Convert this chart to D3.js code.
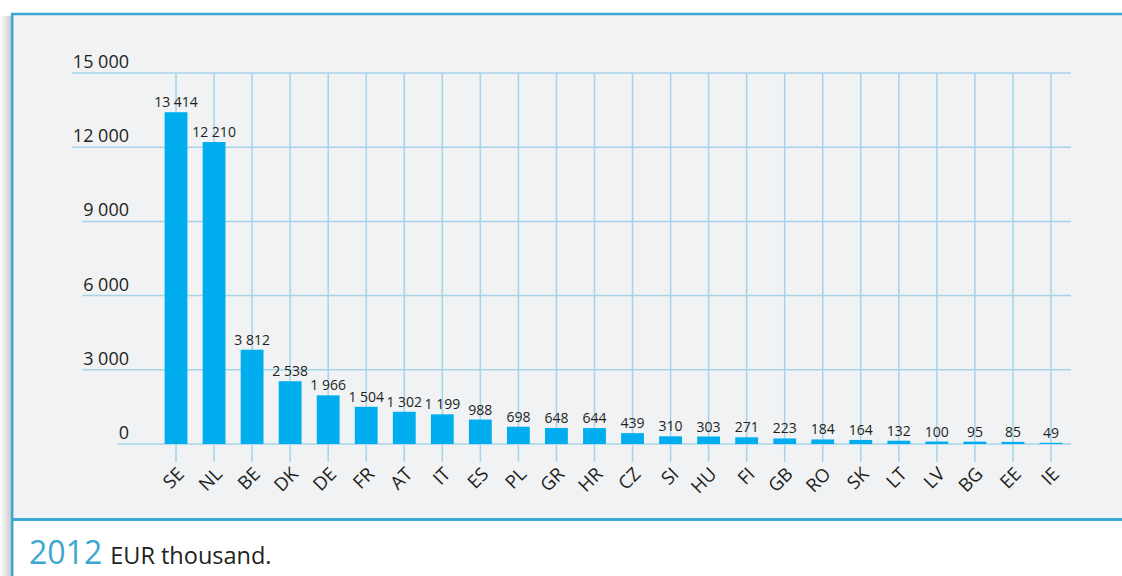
<!DOCTYPE html>
<html>
<head>
<meta charset="utf-8">
<script src="https://cdn.jsdelivr.net/npm/d3@7"></script>
<style>
  html, body { margin: 0; padding: 0; background: #ffffff; }
  svg { display: block; }
  text { font-family: "Open Sans", "Noto Sans", sans-serif; fill: #231f20; }
</style>
</head>
<body>
<svg id="chart" width="1122" height="576"></svg>
<script>
// Countries and their amounts (EUR thousand), 2012
const countries = ["SE","NL","BE","DK","DE","FR","AT","IT","ES","PL","GR","HR","CZ","SI","HU","FI","GB","RO","SK","LT","LV","BG","EE","IE"];
const amounts = [13414,12210,3812,2538,1966,1504,1302,1199,988,698,648,644,439,310,303,271,223,184,164,132,100,95,85,49];
const yTicks = [0,3000,6000,9000,12000,15000];
const captionYear = "2012";
const captionText = "EUR thousand.";

const W = 1122, H = 576;
const blue = "#3aa8d2", grid = "#a5d4ea", barColor = "#00aeef";
const fmt = v => d3.format(",")(v).replace(/,/g, " ");

const svg = d3.select("#chart");
const defs = svg.append("defs");
const shadow = defs.append("linearGradient").attr("id", "shade").attr("x1", 0).attr("x2", 1);
shadow.append("stop").attr("offset", 0).attr("stop-color", "#ffffff");
shadow.append("stop").attr("offset", 0.6).attr("stop-color", "#e2e2e2");
shadow.append("stop").attr("offset", 1).attr("stop-color", "#c9c9c9");

// panel shadow and background
svg.append("rect").attr("x", 0).attr("y", 16).attr("width", 11).attr("height", H - 16).attr("fill", "url(#shade)");
svg.append("rect").attr("x", 12).attr("y", 14).attr("width", W - 12).attr("height", 505).attr("fill", "#f0f2f4");

// panel frame
svg.append("line").attr("x1", 11).attr("x2", W).attr("y1", 14).attr("y2", 14).attr("stroke", blue).attr("stroke-width", 2.5);
svg.append("line").attr("x1", 12).attr("x2", W).attr("y1", 519.5).attr("y2", 519.5).attr("stroke", blue).attr("stroke-width", 3);
svg.append("line").attr("x1", 12.2).attr("x2", 12.2).attr("y1", 13).attr("y2", H).attr("stroke", blue).attr("stroke-width", 2.5);

// scales
const x = d3.scaleBand().domain(countries).range([157, 1070]).paddingInner(0.4).paddingOuter(0.2);
const y = d3.scaleLinear().domain([0, 15000]).range([444, 73]);

const g = svg.append("g");

// vertical grid lines through each category, extending below the baseline
g.append("g").selectAll("line").data(countries).join("line")
  .attr("x1", d => x(d) + x.bandwidth() / 2).attr("x2", d => x(d) + x.bandwidth() / 2)
  .attr("y1", y(15000)).attr("y2", 462)
  .attr("stroke", grid).attr("stroke-width", 1.5);

// y tick labels with the horizontal rules starting under each label
const labelRight = 129;
const ticks = g.append("g").selectAll("g").data(yTicks).join("g");
ticks.append("text")
  .attr("x", labelRight).attr("y", d => y(d) - 5)
  .attr("text-anchor", "end").attr("font-size", 18)
  .text(d => fmt(d));
ticks.each(function(d) {
  const t = d3.select(this).select("text").node();
  const w = t.getComputedTextLength();
  d3.select(this).insert("line", "text")
    .attr("x1", labelRight - w - 1).attr("x2", 1071)
    .attr("y1", y(d)).attr("y2", y(d))
    .attr("stroke", grid).attr("stroke-width", 1.5);
});

// bars
g.append("g").selectAll("rect").data(amounts).join("rect")
  .attr("x", (d, i) => x(countries[i]))
  .attr("width", x.bandwidth())
  .attr("y", d => y(d))
  .attr("height", d => y(0) - y(d))
  .attr("fill", barColor);

// value labels
g.append("g").selectAll("text").data(amounts).join("text")
  .attr("x", (d, i) => x(countries[i]) + x.bandwidth() / 2)
  .attr("y", d => y(d) - 5)
  .attr("text-anchor", "middle").attr("font-size", 14)
  .text(d => fmt(d));

// category labels, rotated
g.append("g").selectAll("text").data(countries).join("text")
  .attr("transform", d => `translate(${x(d) + x.bandwidth() / 2 + 4},${470}) rotate(-45)`)
  .attr("text-anchor", "end").attr("dy", "0.4em").attr("font-size", 18.5)
  .text(d => d);

// caption
const cap = svg.append("text").attr("x", 29).attr("y", 564);
cap.append("tspan").attr("font-size", 32).style("fill", blue).text(captionYear);
cap.append("tspan").attr("font-size", 23.5).attr("dx", 8).text(captionText);
</script>
</body>
</html>
